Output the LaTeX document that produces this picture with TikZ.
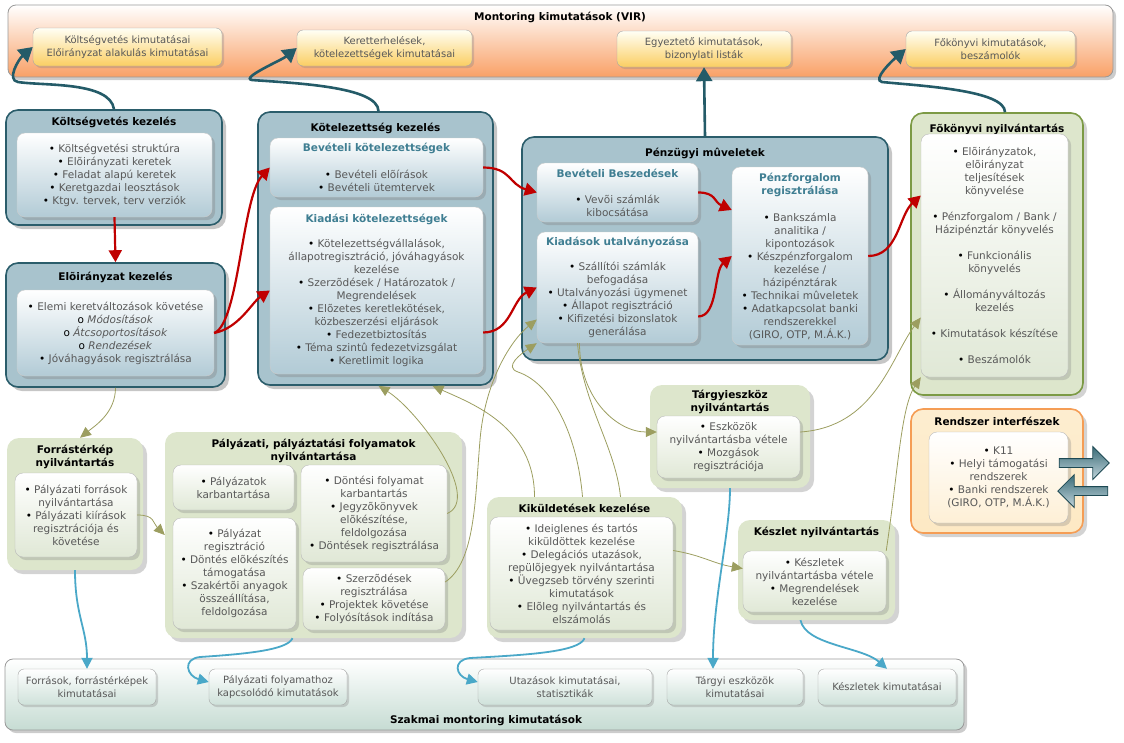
\documentclass[tikz,border=0pt]{standalone}
\usepackage{fontspec}
\setmainfont{DejaVu Sans}
\usetikzlibrary{arrows.meta, positioning, calc, shadows, shapes.arrows}
\definecolor{virnarancs}{RGB}{249,160,102}
\definecolor{virsarga}{RGB}{251,206,98}
\definecolor{modulkek}{RGB}{168,195,205}
\definecolor{modulkeret}{RGB}{43,93,107}
\definecolor{belsokek}{RGB}{178,203,214}
\definecolor{alcimkek}{RGB}{63,126,146}
\definecolor{szurkeszoveg}{RGB}{88,88,88}
\definecolor{olivzold}{RGB}{221,230,204}
\definecolor{olivbelso}{RGB}{224,232,214}
\definecolor{fokonyvkeret}{RGB}{124,154,69}
\definecolor{interfkeret}{RGB}{245,157,85}
\definecolor{interfnarancs}{RGB}{253,233,196}
\definecolor{szakmaizold}{RGB}{198,220,211}
\definecolor{nyilpiros}{RGB}{192,0,0}
\definecolor{nyilsotet}{RGB}{36,91,104}
\definecolor{nyiloliv}{RGB}{156,158,96}
\definecolor{nyilvilagos}{RGB}{74,168,200}
\newcommand{\pont}{{\color{black}\textbullet}~}
\newcommand{\kor}{{\color{black}o}~}
\newcommand{\alcim}[1]{{\color{alcimkek}\bfseries #1}}
\tikzset{
    szoveg/.style={font=\fontsize{10.5}{13}\selectfont, text=szurkeszoveg, align=center, inner sep=2pt},
    cim/.style={font=\bfseries\fontsize{10.5}{12.5}\selectfont, align=center, text=black, inner sep=1pt},
    vircsoport/.style={rectangle, rounded corners=8pt, draw=gray!80, thick, top color=white, bottom color=virnarancs, drop shadow={opacity=0.4, shadow xshift=3pt, shadow yshift=-3pt}},
    virdoboz/.style={szoveg, rectangle, rounded corners=6pt, draw=gray!70, top color=yellow!4, bottom color=virsarga, font=\fontsize{10}{12.5}\selectfont, drop shadow={opacity=0.3, shadow xshift=2pt, shadow yshift=-2pt}},
    szakcsoport/.style={rectangle, rounded corners=8pt, draw=gray!80, thick, top color=white, bottom color=szakmaizold, drop shadow={opacity=0.4, shadow xshift=3pt, shadow yshift=-3pt}},
    szakdoboz/.style={szoveg, rectangle, rounded corners=6pt, draw=gray!70, top color=white, bottom color=szakmaizold!85, font=\fontsize{10}{12.5}\selectfont, drop shadow={opacity=0.3, shadow xshift=2pt, shadow yshift=-2pt}},
    modul/.style={rectangle, rounded corners=12pt, draw=modulkeret, line width=1.6pt, fill=modulkek, drop shadow={opacity=0.45, shadow xshift=4pt, shadow yshift=-4pt}},
    modulbelso/.style={szoveg, rectangle, rounded corners=8pt, draw=gray!40, top color=white, bottom color=belsokek, drop shadow={opacity=0.35, shadow xshift=3pt, shadow yshift=-3pt}},
    nyilv/.style={rectangle, rounded corners=12pt, fill=olivzold, drop shadow={opacity=0.35, shadow xshift=4pt, shadow yshift=-4pt}},
    nyilvbelso/.style={szoveg, rectangle, rounded corners=8pt, draw=gray!55, top color=white, bottom color=olivbelso, drop shadow={opacity=0.3, shadow xshift=3pt, shadow yshift=-3pt}},
    fokonyvcsop/.style={nyilv, draw=fokonyvkeret, line width=1.6pt},
    interfcsop/.style={rectangle, rounded corners=12pt, draw=interfkeret, line width=1.6pt, top color=interfnarancs!80!white, bottom color=interfnarancs, drop shadow={opacity=0.35, shadow xshift=4pt, shadow yshift=-4pt}},
    interfbelso/.style={szoveg, rectangle, rounded corners=8pt, draw=gray!55, top color=white, bottom color=interfnarancs!70, drop shadow={opacity=0.3, shadow xshift=3pt, shadow yshift=-3pt}},
    blokknyil/.style={single arrow, single arrow head extend=12pt, inner sep=4pt, draw=nyilsotet!80!black, thick, top color=nyilsotet!90, bottom color=modulkek!70!white},
    sotetnyil/.style={-{Triangle[length=14pt,width=16pt]}, line width=2.6pt, nyilsotet},
    vorosnyil/.style={-{Triangle[length=12pt,width=13pt]}, line width=2.2pt, nyilpiros},
    olivnyil/.style={-{Triangle[length=11pt,width=10pt]}, line width=0.8pt, nyiloliv},
    olivvonal/.style={line width=0.8pt, nyiloliv},
    kekvonal/.style={-{Triangle[length=11pt,width=11pt]}, line width=1.8pt, nyilvilagos},
}
\begin{document}
\begin{tikzpicture}[x=1pt, y=-1pt]
\useasboundingbox (0,0) rectangle (1124,742);
% felso sav (VIR)
\node[vircsoport, minimum width=1105pt, minimum height=72pt] (vir) at (560.5,41) {};
\node[cim] (vircim) at (560,17) {Montoring kimutatások (VIR)};
\node[virdoboz, minimum width=189pt, minimum height=38pt] (vir1) at (127.5,47) {Költségvetés kimutatásai\\Előirányzat alakulás kimutatásai};
\node[virdoboz, minimum width=175pt, minimum height=36pt] (vir2) at (384.5,48) {Keretterhelések,\\kötelezettségek kimutatásai};
\node[virdoboz, minimum width=174pt, minimum height=36pt] (vir3) at (704,49) {Egyeztető kimutatások,\\bizonylati listák};
\node[virdoboz, minimum width=169pt, minimum height=36pt] (vir4) at (990.5,49) {Főkönyvi kimutatások,\\beszámolók};
% also sav
\node[szakcsoport, minimum width=959pt, minimum height=71pt] (szakmai) at (484.5,694.5) {};
\node[cim] (szakcim) at (486,720) {Szakmai montoring kimutatások};
\node[szakdoboz, minimum width=138pt, minimum height=36pt] (szak1) at (87,687) {Források, forrástérképek\\kimutatásai};
\node[szakdoboz, minimum width=138pt, minimum height=36pt] (szak2) at (278,687) {Pályázati folyamathoz\\kapcsolódó kimutatások};
\node[szakdoboz, minimum width=174pt, minimum height=36pt] (szak3) at (565,687) {Utazások kimutatásai,\\statisztikák};
\node[szakdoboz, minimum width=136pt, minimum height=36pt] (szak4) at (735,687) {Tárgyi eszközök\\kimutatásai};
\node[szakdoboz, minimum width=138pt, minimum height=36pt] (szak5) at (887,687) {Készletek kimutatásai};
% kek modulok
\node[modul, minimum width=216pt, minimum height=115pt] (ktgv) at (114,167.5) {};
\node[cim] (ktgvcim) at (114,122) {Költségvetés kezelés};
\node[modulbelso, minimum width=195pt, minimum height=84pt] (ktgvb) at (114.5,175) {\pont Költségvetési struktúra\\\pont Elõirányzati keretek\\\pont Feladat alapú keretek\\\pont Keretgazdai leosztások\\\pont Ktgv. tervek, terv verziók};
\node[modul, minimum width=219pt, minimum height=124pt] (eloir) at (115.5,325) {};
\node[cim] (eloircim) at (115.5,277) {Elõirányzat kezelés};
\node[modulbelso, minimum width=197pt, minimum height=86pt] (eloirb) at (115.5,333) {\pont Elemi keretváltozások követése\\\kor\textit{Módosítások}\\\kor\textit{Átcsoportosítások}\\\kor\textit{Rendezések}\\\pont Jóváhagyások regisztrálása};
\node[modul, minimum width=235pt, minimum height=273pt] (kotel) at (375.5,248.5) {};
\node[cim] (kotelcim) at (375.5,128) {Kötelezettség kezelés};
\node[modulbelso, minimum width=213pt, minimum height=59pt] (bevkot) at (376.5,167.5) {\alcim{Bevételi kötelezettségek}\\[14pt]\pont Bevételi elõírások\\\pont Bevételi ütemtervek};
\node[modulbelso, minimum width=213pt, minimum height=167pt] (kiadkot) at (376.5,290.5) {\alcim{Kiadási kötelezettségek}\\[12pt]\pont Kötelezettségvállalások,\\állapotregisztráció, jóváhagyások\\kezelése\\\pont Szerzõdések / Határozatok /\\Megrendelések\\\pont Elõzetes keretlekötések,\\közbeszerzési eljárások\\\pont Fedezetbiztosítás\\\pont Téma szintû fedezetvizsgálat\\\pont Keretlimit logika};
\node[modul, minimum width=366pt, minimum height=223pt] (penzugy) at (705,248.5) {};
\node[cim] (penzugycim) at (705,153) {Pénzügyi mûveletek};
\node[modulbelso, minimum width=161pt, minimum height=59pt] (bevbesz) at (617.5,192.5) {\alcim{Bevételi Beszedések}\\[13pt]\pont Vevõi számlák\\kibocsátása};
\node[modulbelso, minimum width=161pt, minimum height=111pt] (kiadutal) at (617.5,287.5) {\alcim{Kiadások utalványozása}\\[12pt]\pont Szállítói számlák\\befogadása\\\pont Utalványozási ügymenet\\\pont Állapot regisztráció\\\pont Kifizetési bizonslatok\\generálása};
\node[modulbelso, minimum width=136pt, minimum height=178pt] (penzforg) at (800,256) {\alcim{Pénzforgalom}\\\alcim{regisztrálása}\\[14pt]\pont Bankszámla\\analitika /\\kipontozások\\\pont Készpénzforgalom\\kezelése /\\házipénztárak\\\pont Technikai mûveletek\\\pont Adatkapcsolat banki\\rendszerekkel\\(GIRO, OTP, M.Á.K.)};
% fokonyv es interfeszek
\node[fokonyvcsop, minimum width=172pt, minimum height=282pt] (fokonyv) at (997,254) {};
\node[cim] (fokonyvcim) at (997,129) {Fõkönyvi nyilvántartás};
\node[nyilvbelso, minimum width=147pt, minimum height=243pt] (fokonyvb) at (994.5,255.5) {\pont Elõirányzatok,\\elõirányzat\\teljesítések\\könyvelése\\[13pt]\pont Pénzforgalom / Bank /\\Házipénztár könyvelés\\[13pt]\pont Funkcionális\\könyvelés\\[13pt]\pont Állományváltozás\\kezelés\\[13pt]\pont Kimutatások készítése\\[13pt]\pont Beszámolók};
\node[interfcsop, minimum width=172pt, minimum height=124pt] (interf) at (997,471) {};
\node[cim] (interfcim) at (997,421) {Rendszer interfészek};
\node[interfbelso, minimum width=139pt, minimum height=91pt] (interfb) at (998.5,477.5) {\pont K11\\\pont Helyi támogatási\\rendszerek\\\pont Banki rendszerek\\(GIRO, OTP, M.Á.K.)};
\node[blokknyil, minimum height=50pt, minimum width=31pt] (kinyil) at (1082,463) {};
\node[blokknyil, shape border rotate=180, minimum height=50pt, minimum width=31pt] (benyil) at (1085,491) {};
% zold nyilvantartasok
\node[nyilv, minimum width=136pt, minimum height=132pt] (forras) at (75,504) {};
\node[cim] (forrascim) at (75,457) {Forrástérkép\\nyilvántartás};
\node[nyilvbelso, minimum width=122pt, minimum height=84pt] (forrasb) at (76,515) {\pont Pályázati források\\nyilvántartása\\\pont Pályázati kiírások\\regisztrációja és\\követése};
\node[nyilv, minimum width=297pt, minimum height=206pt] (palyaz) at (313.5,535) {};
\node[cim] (palyazcim) at (313.5,451) {Pályázati, pályáztatási folyamatok\\nyilvántartása};
\node[nyilvbelso, minimum width=121pt, minimum height=45pt] (palykarb) at (233.5,487.5) {\pont Pályázatok\\karbantartása};
\node[nyilvbelso, minimum width=146pt, minimum height=97pt] (dontes) at (374,513.5) {\pont Döntési folyamat\\karbantartás\\\pont Jegyzõkönyvek\\elõkészítése,\\feldolgozása\\\pont Döntések regisztrálása};
\node[nyilvbelso, minimum width=123pt, minimum height=111pt] (palyreg) at (234.5,573.5) {\pont Pályázat\\regisztráció\\\pont Döntés elõkészítés\\támogatása\\\pont Szakértõi anyagok\\összeállítása,\\feldolgozása};
\node[nyilvbelso, minimum width=142pt, minimum height=62pt] (szerz) at (374,599) {\pont Szerzõdések\\regisztrálása\\\pont Projektek követése\\\pont Folyósítások indítása};
\node[nyilv, minimum width=195pt, minimum height=141pt] (kikuld) at (584.5,567.5) {};
\node[cim] (kikuldcim) at (584.5,508) {Kiküldetések kezelése};
\node[nyilvbelso, minimum width=183pt, minimum height=113pt] (kikuldb) at (581.5,573.5) {\pont Ideiglenes és tartós\\kiküldöttek kezelése\\\pont Delegációs utazások,\\repülõjegyek nyilvántartása\\\pont Üvegzseb törvény szerinti\\kimutatások\\\pont Elõleg nyilvántartás és\\elszámolás};
\node[nyilv, minimum width=160pt, minimum height=103pt] (targy) at (730,436.5) {};
\node[cim] (targycim) at (730,402) {Tárgyieszköz\\nyilvántartás};
\node[nyilvbelso, minimum width=143pt, minimum height=62pt] (targyb) at (728.5,447) {\pont Eszközök\\nyilvántartásba vétele\\\pont Mozgások\\regisztrációja};
\node[nyilv, minimum width=157pt, minimum height=100pt] (keszlet) at (816.5,570) {};
\node[cim] (keszletcim) at (816.5,532) {Készlet nyilvántartás};
\node[nyilvbelso, minimum width=143pt, minimum height=61pt] (keszletb) at (814.5,581.5) {\pont Készletek\\nyilvántartásba vétele\\\pont Megrendelések\\kezelése};
% kimutatasok fele
\draw[sotetnyil] (ktgv.north) .. controls +(-4,-28) and +(25,4) .. (18,82) .. controls +(-12,-2) and +(-14,12) .. (vir1.west);
\draw[sotetnyil] ([xshift=3pt]kotel.north) .. controls +(0,-25) and +(40,3) .. (252,80) .. controls +(-12,-2) and +(-15,12) .. (vir2.west);
\draw[sotetnyil] (penzugy.north) -- (vir3.south);
\draw[sotetnyil] ([xshift=8pt]fokonyv.north) .. controls +(0,-22) and +(40,4) .. (882,82) .. controls +(-10,-2) and +(-14,12) .. (vir4.west);
% fo folyamat
\draw[vorosnyil] (ktgvb.south) -- (eloir.north);
\draw[vorosnyil] (eloirb.east) .. controls +(25,-10) and +(-28,30) .. (bevkot.west);
\draw[vorosnyil] (eloirb.east) .. controls +(25,-5) and +(-18,12) .. (kiadkot.west);
\draw[vorosnyil] (bevkot.east) .. controls +(28,0) and +(-28,-8) .. (bevbesz.west);
\draw[vorosnyil] ([yshift=-42pt]kiadkot.east) .. controls +(28,0) and +(-25,12) .. (kiadutal.west);
\draw[vorosnyil] (bevbesz.east) .. controls +(18,0) and +(-18,-8) .. ([yshift=46pt]penzforg.west);
\draw[vorosnyil] ([yshift=-29pt]kiadutal.east) .. controls +(20,0) and +(-18,15) .. (penzforg.west);
\draw[vorosnyil] (penzforg.east) .. controls +(30,0) and +(-22,20) .. ([yshift=60pt]fokonyvb.west);
% kapcsolodo nyilvantartasok
\draw[olivnyil] (eloir.south) .. controls +(0,25) and +(15,-12) .. ([xshift=5pt]forras.north);
\draw[olivnyil] (forrasb.east) .. controls +(18,0) and +(-12,-12) .. (palyaz.west);
\draw[olivnyil] (dontes.east) .. controls +(35,-15) and +(40,25) .. ([xshift=3pt]kotel.south);
\draw[olivnyil] ([xshift=-50pt]kikuld.north) .. controls +(0,-70) and +(40,18) .. ([xshift=57pt]kotel.south);
\draw[olivnyil] ([yshift=17pt]szerz.east) .. controls +(30,-20) and +(-5,60) .. (480,440) .. controls +(5,-60) and +(-25,20) .. ([yshift=-32pt]kiadutal.west);
\draw[olivnyil] ([xshift=-2pt]kikuld.north) .. controls +(-5,-60) and +(35,12) .. (518,372) .. controls +(-15,-5) and +(-15,10) .. (kiadutal.south west);
\draw[olivnyil] ([xshift=-38pt]kiadutal.south) .. controls +(0,55) and +(-40,0) .. ([yshift=15pt]targyb.west);
\draw[olivvonal] ([xshift=-40pt]kiadutal.south) .. controls +(5,60) and +(-5,-50) .. ([xshift=36pt]kikuld.north);
\draw[olivnyil] ([yshift=15pt]targyb.east) .. controls +(75,-5) and +(-30,40) .. ([yshift=-62pt]fokonyvb.west);
\draw[olivnyil] (keszletb.north east) .. controls +(12,-80) and +(-20,30) .. (fokonyvb.south west);
\draw[olivnyil] ([yshift=23pt]kikuldb.east) .. controls +(30,5) and +(-30,-5) .. ([yshift=13pt]keszletb.west);
% szakmai kimutatasok fele
\draw[kekvonal] (forras.south) .. controls +(0,45) and +(0,-40) .. (szak1.north);
\draw[kekvonal] ([xshift=-21pt]palyaz.south) .. controls +(-5,12) and +(45,-3) .. (200,657) .. controls +(-18,2) and +(-22,-6) .. ([yshift=5pt]szak2.west);
\draw[kekvonal] (kikuld.south) .. controls +(-5,14) and +(55,-3) .. (470,658) .. controls +(-18,2) and +(-22,-6) .. ([yshift=5pt]szak3.west);
\draw[kekvonal] (targy.south) .. controls +(0,45) and +(0,-70) .. ([xshift=-22pt]szak4.north);
\draw[kekvonal] ([xshift=-16pt]keszlet.south) .. controls +(5,25) and +(-25,-22) .. (szak5.north);
\end{tikzpicture}
\end{document}
